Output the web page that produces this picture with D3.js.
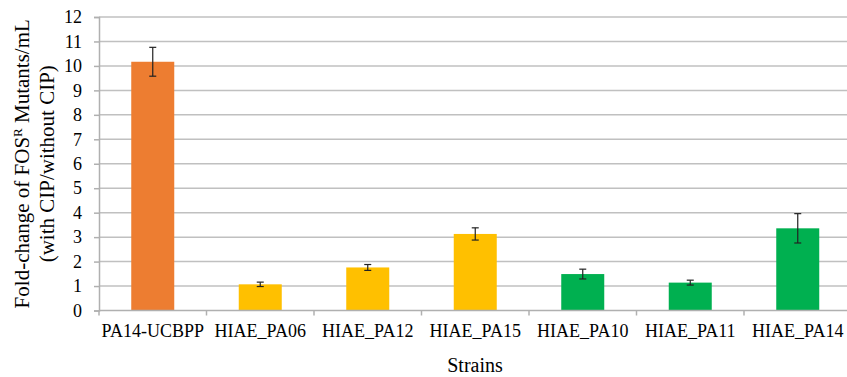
<!DOCTYPE html>
<html lang="en">
<head>
    <meta charset="UTF-8">
    <title>Fold-change of FOSR mutants</title>
    <script type="text/javascript" src="https://d3js.org/d3.v7.min.js"></script>
    <style>
        body{
            margin: 0;
            background-color: white;
        }
        text{
            font-family: "Liberation Serif", "Times New Roman", serif;
            fill: #000;
        }
    </style>
</head>
<body>
    <script type="text/javascript">
        // data
        var strains = ["PA14-UCBPP", "HIAE_PA06", "HIAE_PA12", "HIAE_PA15", "HIAE_PA10", "HIAE_PA11", "HIAE_PA14"];
        var foldChange = [10.17, 1.07, 1.76, 3.13, 1.49, 1.14, 3.36];
        var errors = [0.59, 0.09, 0.12, 0.25, 0.2, 0.1, 0.6];
        var groups = ["ref", "yellow", "yellow", "yellow", "green", "green", "green"];
        var yTicks = [0, 1, 2, 3, 4, 5, 6, 7, 8, 9, 10, 11, 12];

        var width = 847;
        var height = 377;
        // plot box (window.top is reserved, so use other names)
        var plotL = 99, plotR = 851.5, plotT = 17, plotB = 310.5;

        var color = d3.scaleOrdinal()
            .domain(["ref", "yellow", "green"])
            .range(["#ED7D31", "#FFC000", "#00B050"]);

        var svg = d3.select("body").append("svg")
            .attr("width", width)
            .attr("height", height);

        var x = d3.scaleBand()
            .domain(strains)
            .range([plotL, plotR])
            .paddingInner(0.6)
            .paddingOuter(0.3);

        var y = d3.scaleLinear()
            .domain([0, 12])
            .range([plotB, plotT]);

        // horizontal gridlines
        svg.append("g")
            .selectAll("line")
            .data(yTicks.filter(function(d){ return d > 0; }))
            .enter()
            .append("line")
            .attr("x1", plotL)
            .attr("x2", width)
            .attr("y1", function(d){ return y(d); })
            .attr("y2", function(d){ return y(d); })
            .attr("stroke", "#c0c0c0")
            .attr("stroke-width", 1.5);

        // y axis
        var yAxis = svg.append("g")
            .attr("transform", "translate(" + plotL + ",0)")
            .call(d3.axisLeft(y).tickValues(yTicks).tickSize(5).tickPadding(12));
        yAxis.select(".domain").attr("stroke", "#b0b0b0").attr("stroke-width", 1.5);
        yAxis.selectAll(".tick line").attr("stroke", "#b0b0b0").attr("stroke-width", 1.5);
        yAxis.selectAll(".tick text")
            .style("font-size", "18px")
            .style("font-family", "Liberation Serif");

        // bars
        svg.append("g")
            .selectAll("rect")
            .data(foldChange)
            .enter()
            .append("rect")
            .attr("x", function(d, i){ return x(strains[i]); })
            .attr("width", x.bandwidth())
            .attr("y", function(d){ return y(d); })
            .attr("height", function(d){ return y(0) - y(d); })
            .attr("fill", function(d, i){ return color(groups[i]); });

        // x axis with ticks between categories
        var step = x.step();
        var xg = svg.append("g");
        xg.append("line")
            .attr("x1", plotL).attr("x2", width)
            .attr("y1", plotB).attr("y2", plotB)
            .attr("stroke", "#b0b0b0").attr("stroke-width", 1.5);
        xg.selectAll(".sep")
            .data(d3.range(strains.length + 1))
            .enter()
            .append("line")
            .attr("class", "sep")
            .attr("x1", function(d){ return plotL + d * step; })
            .attr("x2", function(d){ return plotL + d * step; })
            .attr("y1", plotB)
            .attr("y2", plotB + 5)
            .attr("stroke", "#b0b0b0").attr("stroke-width", 1.5);
        xg.selectAll(".lab")
            .data(strains)
            .enter()
            .append("text")
            .attr("class", "lab")
            .attr("x", function(d){ return x(d) + x.bandwidth() / 2; })
            .attr("y", 337)
            .attr("text-anchor", "middle")
            .style("font-size", "18px")
            .text(function(d){ return d; });

        // error bars
        var eb = svg.append("g")
            .selectAll("g")
            .data(foldChange)
            .enter()
            .append("g")
            .attr("stroke", "#222")
            .attr("stroke-width", 1.2);
        eb.append("line")
            .attr("x1", function(d, i){ return x(strains[i]) + x.bandwidth() / 2; })
            .attr("x2", function(d, i){ return x(strains[i]) + x.bandwidth() / 2; })
            .attr("y1", function(d, i){ return y(d + errors[i]); })
            .attr("y2", function(d, i){ return y(d - errors[i]); });
        eb.selectAll(".cap")
            .data(function(d, i){ return [[i, d + errors[i]], [i, d - errors[i]]]; })
            .enter()
            .append("line")
            .attr("x1", function(p){ return x(strains[p[0]]) + x.bandwidth() / 2 - 3.5; })
            .attr("x2", function(p){ return x(strains[p[0]]) + x.bandwidth() / 2 + 3.5; })
            .attr("y1", function(p){ return y(p[1]); })
            .attr("y2", function(p){ return y(p[1]); });

        // axis titles
        svg.append("text")
            .attr("x", 475)
            .attr("y", 372)
            .attr("text-anchor", "middle")
            .style("font-size", "20px")
            .text("Strains");

        var yt = svg.append("text")
            .attr("transform", "translate(29," + ((plotT + plotB) / 2) + ") rotate(-90)")
            .attr("text-anchor", "middle")
            .style("font-size", "21px");
        yt.append("tspan").text("Fold-change of FOS");
        yt.append("tspan").attr("dy", -7).style("font-size", "13px").text("R");
        yt.append("tspan").attr("dy", 7).text(" Mutants/mL");

        svg.append("text")
            .attr("transform", "translate(54," + ((plotT + plotB) / 2) + ") rotate(-90)")
            .attr("text-anchor", "middle")
            .style("font-size", "21px")
            .text("(with CIP/without CIP)");
    </script>
</body>
</html>
